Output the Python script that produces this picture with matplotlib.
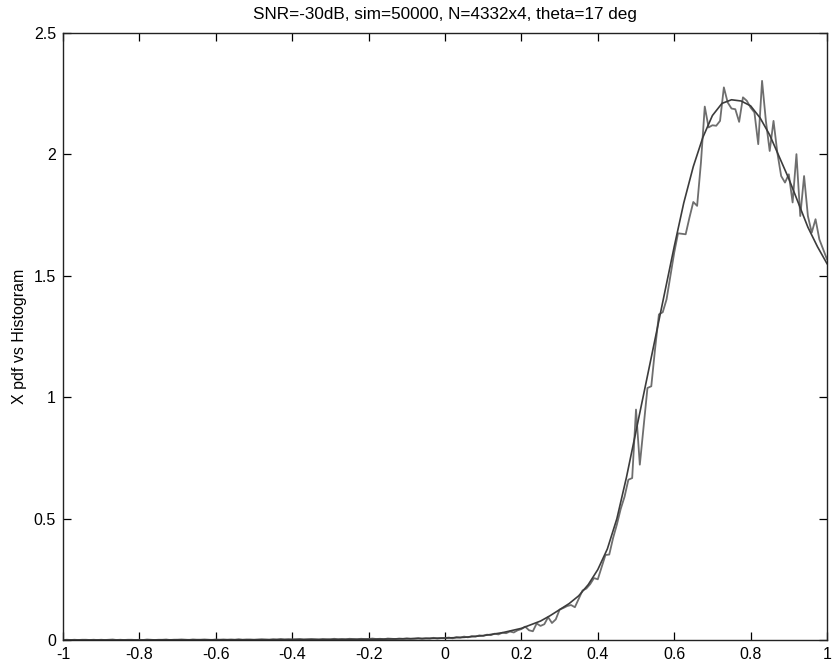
import numpy as np
import matplotlib
matplotlib.use("Agg")
import matplotlib.pyplot as plt

plt.rcParams['font.family'] = ['Liberation Sans', 'DejaVu Sans']

title = "SNR=-30dB, sim=50000, N=4332x4, theta=17 deg"
ylabel = "X pdf vs Histogram"

# theoretical pdf (smooth curve)
pdf_x = [-1.0, -0.9, -0.8, -0.7, -0.6, -0.5, -0.4, -0.3, -0.2, -0.1, 0.0,
         0.05, 0.10, 0.15, 0.20, 0.25, 0.275, 0.30, 0.325, 0.35, 0.375, 0.40,
         0.425, 0.45, 0.475, 0.50, 0.525, 0.55, 0.575, 0.60, 0.625, 0.65,
         0.675, 0.70, 0.725, 0.75, 0.775, 0.80, 0.825, 0.85, 0.875, 0.90,
         0.925, 0.95, 0.975, 1.0]
pdf_y = [0.000, 0.000, 0.000, 0.001, 0.001, 0.001, 0.002, 0.002, 0.003, 0.005, 0.008,
         0.011, 0.018, 0.030, 0.048, 0.078, 0.100, 0.125, 0.150, 0.182, 0.228, 0.290,
         0.375, 0.500, 0.670, 0.860, 1.050, 1.240, 1.430, 1.620, 1.800, 1.950,
         2.070, 2.160, 2.210, 2.225, 2.220, 2.200, 2.150, 2.080, 1.990, 1.900,
         1.800, 1.700, 1.620, 1.550]

# simulated histogram, bins of 0.01 from -1 to 1
hist_neg = [0.000, 0.001, 0.000, 0.001, 0.000, 0.001, 0.001, 0.000, 0.001, 0.000,
            0.001, 0.000, 0.001, 0.002, 0.000, 0.001, 0.000, 0.001, 0.001, 0.000,
            0.001, 0.000, 0.002, 0.001, 0.000, 0.001, 0.001, 0.002, 0.000, 0.001,
            0.001, 0.002, 0.001, 0.000, 0.002, 0.001, 0.001, 0.002, 0.001, 0.000,
            0.002, 0.001, 0.002, 0.001, 0.002, 0.001, 0.003, 0.001, 0.002, 0.002,
            0.001, 0.002, 0.003, 0.002, 0.001, 0.003, 0.002, 0.004, 0.002, 0.003,
            0.002, 0.003, 0.004, 0.002, 0.003, 0.004, 0.003, 0.002, 0.004, 0.003,
            0.003, 0.005, 0.003, 0.004, 0.003, 0.005, 0.004, 0.003, 0.005, 0.004,
            0.004, 0.006, 0.004, 0.005, 0.003, 0.006, 0.005, 0.004, 0.006, 0.005,
            0.007, 0.005, 0.006, 0.008, 0.005, 0.007, 0.006, 0.009, 0.006, 0.008]
hist_pos = [0.008, 0.010, 0.007, 0.012, 0.010, 0.014, 0.011, 0.016, 0.014, 0.019,
            0.017, 0.022, 0.020, 0.026, 0.023, 0.030, 0.028, 0.035, 0.031, 0.040,
            0.045, 0.055, 0.040, 0.036, 0.068, 0.058, 0.065, 0.094, 0.070, 0.085,
            0.125, 0.132, 0.140, 0.144, 0.135, 0.170, 0.204, 0.212, 0.230, 0.255,
            0.250, 0.300, 0.350, 0.352, 0.420, 0.476, 0.540, 0.590, 0.660, 0.667,
            0.949, 0.722, 0.880, 1.038, 1.045, 1.200, 1.341, 1.350, 1.403, 1.500,
            1.595, 1.675, 1.673, 1.671, 1.740, 1.804, 1.788, 1.966, 2.197, 2.111,
            2.120, 2.118, 2.138, 2.276, 2.214, 2.189, 2.186, 2.134, 2.235, 2.221,
            2.193, 2.173, 2.042, 2.303, 2.138, 2.014, 2.138, 2.007, 1.911, 1.884,
            1.918, 1.802, 2.001, 1.746, 1.911, 1.746, 1.678, 1.733, 1.650, 1.609,
            1.568]
hist_y = hist_neg + hist_pos
hist_x = np.round(np.linspace(-1.0, 1.0, len(hist_y)), 3)

xticks = [-1, -0.8, -0.6, -0.4, -0.2, 0, 0.2, 0.4, 0.6, 0.8, 1]
xticklabels = ["-1", "-0.8", "-0.6", "-0.4", "-0.2", "0", "0.2", "0.4", "0.6", "0.8", "1"]
yticks = [0, 0.5, 1, 1.5, 2, 2.5]
yticklabels = ["0", "0.5", "1", "1.5", "2", "2.5"]

fig = plt.figure(figsize=(8.32, 6.70), dpi=100)
ax = fig.add_axes([63/832, 30/670, (827-63)/832, (640-33)/670])

ax.plot(hist_x, hist_y, color='#6e6e6e', lw=1.3)
ax.plot(pdf_x, pdf_y, color='#3c3c3c', lw=1.2)

ax.set_xlim(-1, 1)
ax.set_ylim(0, 2.5)
ax.set_xticks(xticks)
ax.set_xticklabels(xticklabels)
ax.set_yticks(yticks)
ax.set_yticklabels(yticklabels)
ax.tick_params(direction='in', length=6, width=0.9, labelsize=11.5,
               top=True, right=True, pad=5)
for s in ax.spines.values():
    s.set_linewidth(1.0)
    s.set_color('#222222')

ax.set_title(title, fontsize=12.3, pad=10)
ax.set_ylabel(ylabel, fontsize=11.5, labelpad=5)

fig.savefig("out.png", dpi=100)
